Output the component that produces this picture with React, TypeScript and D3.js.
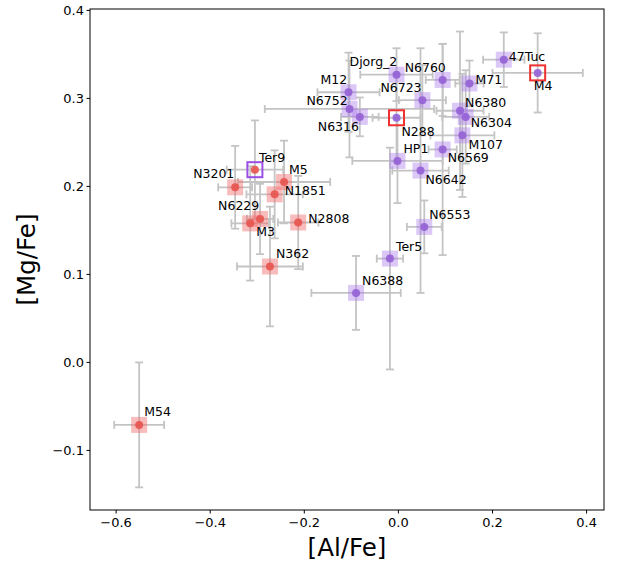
import * as d3 from 'd3';

// cluster names, [Al/Fe], [Mg/Fe] and their errors
const redNames = ['M54', 'N3201', 'Ter9', 'M5', 'N1851', 'N6229', 'M3', 'N2808', 'N362'];
const redAl = [-0.551, -0.347, -0.305, -0.243, -0.263, -0.294, -0.315, -0.213, -0.273];
const redMg = [-0.071, 0.199, 0.219, 0.205, 0.191, 0.163, 0.158, 0.159, 0.109];
const redAlErr = [0.053, 0.036, 0.06, 0.098, 0.06, 0.028, 0.04, 0.043, 0.07];
const redMgErr = [0.071, 0.047, 0.056, 0.047, 0.05, 0.04, 0.065, 0.053, 0.068];

const purpleNames = ['47Tuc', 'M4', 'Djorg_2', 'N6760', 'M71', 'M12', 'N6723', 'N6752', 'N6380', 'N6316',
  'N288', 'N6304', 'M107', 'N6569', 'HP1', 'N6642', 'N6553', 'Ter5', 'N6388'];
const purpleAl = [0.224, 0.296, -0.004, 0.094, 0.151, -0.106, 0.051, -0.104, 0.131, -0.082,
  -0.004, 0.143, 0.136, 0.094, -0.002, 0.047, 0.055, -0.018, -0.09];
const purpleMg = [0.344, 0.329, 0.327, 0.321, 0.317, 0.307, 0.298, 0.288, 0.286, 0.279,
  0.278, 0.279, 0.258, 0.242, 0.229, 0.218, 0.154, 0.118, 0.079];
const purpleAlErr = [0.044, 0.096, 0.077, 0.036, 0.03, 0.066, 0.05, 0.18, 0.05, 0.04,
  0.051, 0.05, 0.068, 0.03, 0.096, 0.06, 0.037, 0.028, 0.095];
const purpleMgErr = [0.031, 0.045, 0.03, 0.041, 0.026, 0.045, 0.04, 0.055, 0.09, 0.022,
  0.05, 0.053, 0.07, 0.12, 0.048, 0.139, 0.03, 0.126, 0.042];

// clusters drawn with an open square of the other colour
const highlightedRed = ['Ter9'];
const highlightedPurple = ['M4', 'N288'];

const xTicks = [-0.6, -0.4, -0.2, 0.0, 0.2, 0.4];
const yTicks = [-0.1, 0.0, 0.1, 0.2, 0.3, 0.4];

// label offsets in px from the point (left edge, baseline)
const labelOffset: Record<string, [number, number]> = {
  M54: [5, -9], N3201: [-42, -9], Ter9: [4, -8], M5: [5, -8], N1851: [10, 1], N6229: [-42, -9],
  M3: [6, 13], N2808: [10, 1], N362: [6, -8],
  '47Tuc': [5, 1], M4: [-4, 17], Djorg_2: [-47, -9], N6760: [-38, -8], M71: [6, 1], M12: [-28, -8],
  N6723: [-42, -8], N6752: [-43, -4], N6380: [5, -4], N6316: [-42, 14], N288: [5, 18], N6304: [5, 10],
  M107: [6, 14], N6569: [5, 13], HP1: [6, -8], N6642: [5, 13], N6553: [5, -8], Ter5: [6, -8], N6388: [6, -8],
};

const W = 618, H = 562;
const margin = { left: 90, right: 14, top: 9, bottom: 52 };

export default function App() {
  const x = d3.scaleLinear().domain([-0.6555, 0.437]).range([margin.left, W - margin.right]);
  const y = d3.scaleLinear().domain([-0.1677, 0.4016]).range([H - margin.bottom, margin.top]);

  const red = redNames.map((n, i) => ({ n, a: redAl[i], m: redMg[i], ea: redAlErr[i], em: redMgErr[i] }));
  const purple = purpleNames.map((n, i) => ({ n, a: purpleAl[i], m: purpleMg[i], ea: purpleAlErr[i], em: purpleMgErr[i] }));
  const all = [...red, ...purple];

  const errColor = '#c4c4c4';
  const cap = 4;
  const font = 'DejaVu Sans, sans-serif';

  const bottom = H - margin.bottom;

  return (
    <svg width={W} height={H} style={{ position: 'absolute', left: 0, top: 0, background: '#fff' }} fontFamily={font}>
      {/* error bars */}
      <g stroke={errColor} strokeWidth={1.8} fill="none">
        {all.map((d) => {
          const cx = x(d.a), cy = y(d.m);
          const x0 = x(d.a - d.ea), x1 = x(d.a + d.ea);
          const y0 = y(d.m - d.em), y1 = y(d.m + d.em);
          return (
            <g key={'e' + d.n}>
              <line x1={x0} x2={x1} y1={cy} y2={cy} />
              <line x1={cx} x2={cx} y1={y0} y2={y1} />
              <line x1={x0} x2={x0} y1={cy - cap} y2={cy + cap} />
              <line x1={x1} x2={x1} y1={cy - cap} y2={cy + cap} />
              <line x1={cx - cap} x2={cx + cap} y1={y0} y2={y0} />
              <line x1={cx - cap} x2={cx + cap} y1={y1} y2={y1} />
            </g>
          );
        })}
      </g>

      {/* square halos */}
      {red.filter((d) => !highlightedRed.includes(d.n)).map((d) => (
        <rect key={'rs' + d.n} x={x(d.a) - 8} y={y(d.m) - 8} width={16} height={16} fill="#f26b6b" fillOpacity={0.45} />
      ))}
      {purple.filter((d) => !highlightedPurple.includes(d.n)).map((d) => (
        <rect key={'ps' + d.n} x={x(d.a) - 8} y={y(d.m) - 8} width={16} height={16} fill="#a775e8" fillOpacity={0.4} />
      ))}

      {/* open squares */}
      {red.filter((d) => highlightedRed.includes(d.n)).map((d) => (
        <rect key={'ro' + d.n} x={x(d.a) - 7.5} y={y(d.m) - 7.5} width={15} height={15} fill="none" stroke="#9b4fe6" strokeWidth={2} />
      ))}
      {purple.filter((d) => highlightedPurple.includes(d.n)).map((d) => (
        <rect key={'po' + d.n} x={x(d.a) - 7.5} y={y(d.m) - 7.5} width={15} height={15} fill="none" stroke="#ee3030" strokeWidth={2} />
      ))}

      {/* dots */}
      {red.map((d) => (
        <circle key={'rc' + d.n} cx={x(d.a)} cy={y(d.m)} r={4} fill="#e8534f" fillOpacity={0.9} />
      ))}
      {purple.map((d) => (
        <circle key={'pc' + d.n} cx={x(d.a)} cy={y(d.m)} r={4} fill="#9560d6" fillOpacity={0.9} />
      ))}

      {/* labels */}
      {all.map((d) => {
        const off = labelOffset[d.n] || [5, -8];
        return (
          <text key={'t' + d.n} x={x(d.a) + off[0]} y={y(d.m) + off[1]} fontSize={12.5} fill="#000">
            {d.n}
          </text>
        );
      })}

      {/* frame */}
      <rect x={margin.left} y={margin.top} width={W - margin.right - margin.left} height={bottom - margin.top}
        fill="none" stroke="#000" strokeWidth={1} />

      {/* x axis */}
      {xTicks.map((t) => (
        <g key={'xt' + t}>
          <line x1={x(t)} x2={x(t)} y1={bottom} y2={bottom + 3.5} stroke="#000" />
          <text x={x(t)} y={bottom + 17} textAnchor="middle" fontSize={13}>
            {d3.format('.1f')(t).replace('-', '\u2212')}
          </text>
        </g>
      ))}
      {/* y axis */}
      {yTicks.map((t) => (
        <g key={'yt' + t}>
          <line x1={margin.left - 3.5} x2={margin.left} y1={y(t)} y2={y(t)} stroke="#000" />
          <text x={margin.left - 6} y={y(t) + 4.5} textAnchor="end" fontSize={13}>
            {d3.format('.1f')(t).replace('-', '\u2212')}
          </text>
        </g>
      ))}

      <text x={(margin.left + W - margin.right) / 2} y={556} textAnchor="middle" fontSize={24.5}>[Al/Fe]</text>
      <text transform={`translate(35, ${(margin.top + bottom) / 2}) rotate(-90)`} textAnchor="middle" fontSize={24.5}>[Mg/Fe]</text>
    </svg>
  );
}
